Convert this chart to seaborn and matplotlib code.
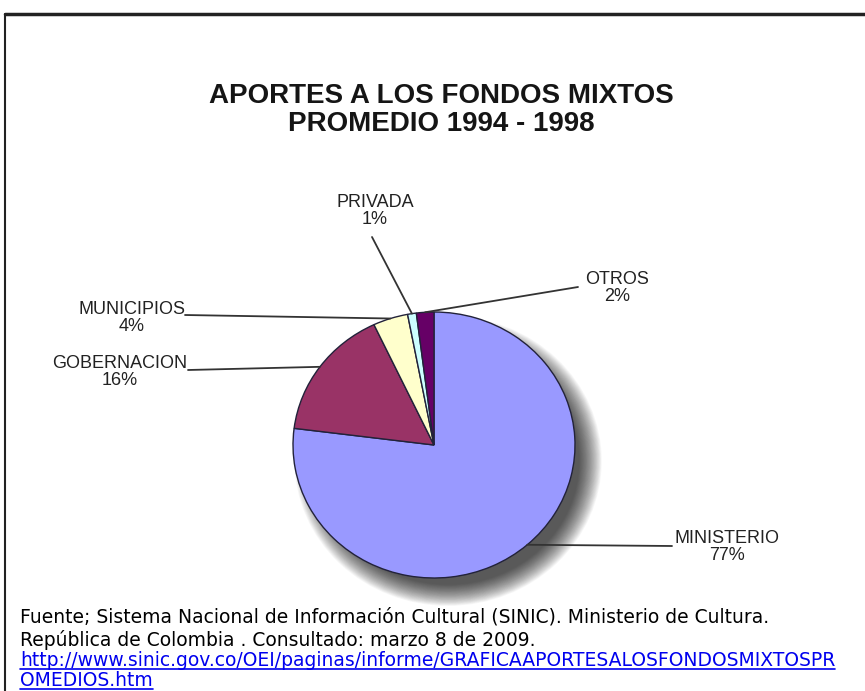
import numpy as np
import matplotlib
matplotlib.use("Agg")
import matplotlib.pyplot as plt
from matplotlib.patches import Ellipse
from matplotlib.lines import Line2D
import seaborn as sns

# datos del grafico
categorias = ["MINISTERIO", "GOBERNACION", "MUNICIPIOS", "PRIVADA", "OTROS"]
porcentajes = [77, 16, 4, 1, 2]
colores = ["#9999ff", "#993366", "#ffffcc", "#ccffff", "#660066"]

titulo = "APORTES A LOS FONDOS MIXTOS\nPROMEDIO 1994 - 1998"
fuente_1 = "Fuente; Sistema Nacional de Información Cultural (SINIC). Ministerio de Cultura."
fuente_2 = "República de Colombia . Consultado: marzo 8 de 2009."
enlace_1 = "http://www.sinic.gov.co/OEI/paginas/informe/GRAFICAAPORTESALOSFONDOSMIXTOSPR"
enlace_2 = "OMEDIOS.htm"

# posiciones de etiquetas (pixeles, y hacia abajo)
pos_etiqueta = [(727, 547), (120, 372), (132, 318), (375, 211), (617, 288)]
pos_linea = [(672, 546), (188, 370), (185, 315), (372, 237), (578, 287)]

sns.set_theme(style="white")
plt.rcParams["font.family"] = ["Liberation Sans", "DejaVu Sans"]

W, H = 865, 691
fig = plt.figure(figsize=(W / 100, H / 100), dpi=100)
fig.patch.set_facecolor("white")


def fx(x):
    return x / W


def fy(y):
    return (H - y) / H


# marco
fig.add_artist(Line2D([fx(5), 1], [fy(14), fy(14)], color="#222222", lw=2.5))
fig.add_artist(Line2D([fx(5), fx(5)], [fy(14), 0], color="#222222", lw=1.5))

# titulo
fig.text(fx(441), fy(110), titulo, ha="center", va="center", fontsize=20,
         fontweight="bold", color="#151515", linespacing=1.1)

# pastel
cx, cy, rx, ry = 434, 445, 141, 133
ax = fig.add_axes([fx(cx - rx), fy(cy + ry), 2 * rx / W, 2 * ry / H])
wedges, _ = ax.pie(porcentajes, colors=colores, startangle=90, counterclock=False,
                   radius=1, wedgeprops=dict(edgecolor="#22223a", linewidth=1.0))
ax.set_aspect("auto")
ax.set_xlim(-1, 1)
ax.set_ylim(-1, 1)
ax.axis("off")

# sombra difusa
n = 30
for i in range(n):
    r = 1.09 - 0.16 * i / (n - 1)
    sombra = Ellipse((0.1, -0.12), 2 * r, 2 * r, facecolor="black", edgecolor="none",
                     alpha=0.03, zorder=0, clip_on=False)
    ax.add_patch(sombra)

# etiquetas con lineas guia
for w, cat, val, (lx, ly), (px, py) in zip(wedges, categorias, porcentajes,
                                           pos_etiqueta, pos_linea):
    mid = np.deg2rad((w.theta1 + w.theta2) / 2)
    ax.annotate("", xy=(np.cos(mid), np.sin(mid)), xycoords="data",
                xytext=(px, H - py), textcoords="figure pixels",
                arrowprops=dict(arrowstyle="-", color="#333333", lw=1.3,
                                shrinkA=0, shrinkB=0),
                annotation_clip=False)
    fig.text(fx(lx), fy(ly), f"{cat}\n{val}%", ha="center", va="center",
             fontsize=13, color="#222222", linespacing=1.05)

# fuente
estilo = dict(va="center", fontsize=13.5, family="DejaVu Sans")
fig.text(fx(20), fy(617), fuente_1, color="black", **estilo)
fig.text(fx(20), fy(640), fuente_2, color="black", **estilo)
t1 = fig.text(fx(20), fy(661), enlace_1, color="#0000ee", **estilo)
t2 = fig.text(fx(20), fy(681), enlace_2, color="#0000ee", **estilo)

fig.canvas.draw()
for t in (t1, t2):
    bb = t.get_window_extent()
    yl = (bb.y0 + 2) / H
    fig.add_artist(Line2D([bb.x0 / W, bb.x1 / W], [yl, yl], color="#0000ee", lw=1.2))

fig.savefig("out.png", dpi=100)
